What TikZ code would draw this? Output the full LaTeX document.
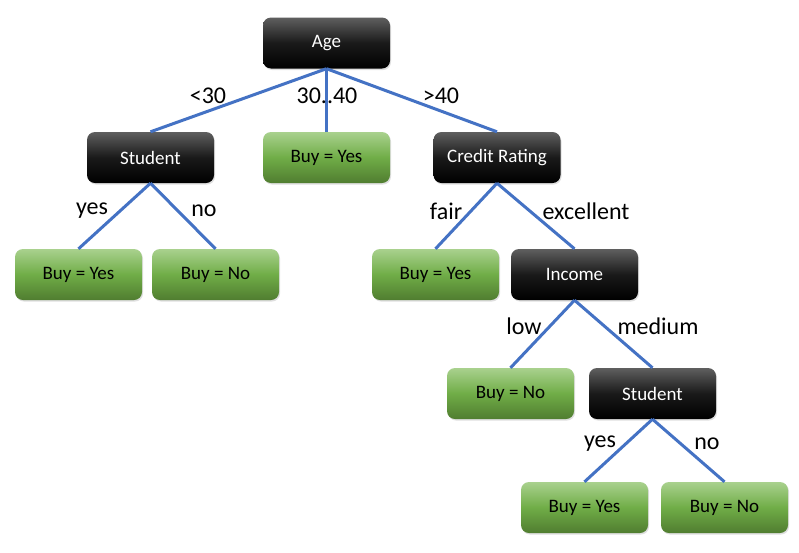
\documentclass[tikz,border=0pt]{standalone}
\usepackage{fontspec}
\setmainfont{Carlito}
\usetikzlibrary{shadows}
\definecolor{edgeblue}{RGB}{68,114,196}
\definecolor{leaftop}{RGB}{169,209,142}
\definecolor{leafmid}{RGB}{112,173,71}
\definecolor{leafbot}{RGB}{80,125,48}
\definecolor{testtop}{RGB}{95,95,95}
\tikzset{
  testbox/.style={rounded corners=8pt, minimum width=127pt, minimum height=51pt,
    top color=testtop, bottom color=black, middle color=black!90, text=white,
    drop shadow={shadow xshift=1pt, shadow yshift=-1.5pt, opacity=0.25},
    font=\fontsize{19}{19}\selectfont},
  leafbox/.style={rounded corners=8pt, minimum width=127pt, minimum height=51pt,
    top color=leaftop, bottom color=leafbot, middle color=leafmid, text=black,
    drop shadow={shadow xshift=1pt, shadow yshift=-1.5pt, opacity=0.25},
    font=\fontsize{19}{19}\selectfont},
  branch/.style={draw=edgeblue, line width=3pt},
  lbl/.style={font=\fontsize{24}{24}\selectfont}
}
\begin{document}
\begin{tikzpicture}[x=1pt, y=-1pt]
  \useasboundingbox[fill=white] (0,0) rectangle (799,552);
  % root and first split
  \node[testbox] (age) at (326.5,43) {Age};
  \node[testbox] (student) at (150.5,157.5) {Student};
  \node[leafbox] (mid) at (326.5,157.5) {Buy = Yes};
  \node[testbox] (credit) at (497,157.5) {Credit Rating};
  % second level
  \node[leafbox] (syes) at (78.5,274.5) {Buy = Yes};
  \node[leafbox] (sno) at (215.5,274.5) {Buy = No};
  \node[leafbox] (fair) at (435.5,274.5) {Buy = Yes};
  \node[testbox] (income) at (574.5,274.5) {Income};
  % third level
  \node[leafbox] (low) at (510.5,393.5) {Buy = No};
  \node[testbox] (student2) at (652.5,393.5) {Student};
  % fourth level
  \node[leafbox] (s2yes) at (584.5,507.5) {Buy = Yes};
  \node[leafbox] (s2no) at (724.5,507.5) {Buy = No};
  % branches
  \draw[branch] (age.south) -- (student.north);
  \draw[branch] (age.south) -- (mid.north);
  \draw[branch] (age.south) -- (credit.north);
  \draw[branch] (student.south) -- (syes.north);
  \draw[branch] (student.south) -- (sno.north);
  \draw[branch] (credit.south) -- (fair.north);
  \draw[branch] (credit.south) -- (income.north);
  \draw[branch] (income.south) -- (low.north);
  \draw[branch] (income.south) -- (student2.north);
  \draw[branch] (student2.south) -- (s2yes.north);
  \draw[branch] (student2.south) -- (s2no.north);
  % branch labels
  \node[lbl] (l1) at (208,96) {<30};
  \node[lbl] (l2) at (327,96) {30..40};
  \node[lbl] (l3) at (441,96) {>40};
  \node[lbl] (l4) at (92,211) {yes};
  \node[lbl] (l5) at (204,211) {no};
  \node[lbl] (l6) at (446,211) {fair};
  \node[lbl] (l7) at (586,211) {excellent};
  \node[lbl] (l8) at (524,326) {low};
  \node[lbl] (l9) at (658,326) {medium};
  \node[lbl] (l10) at (600,444) {yes};
  \node[lbl] (l11) at (707,444) {no};
\end{tikzpicture}
\end{document}
